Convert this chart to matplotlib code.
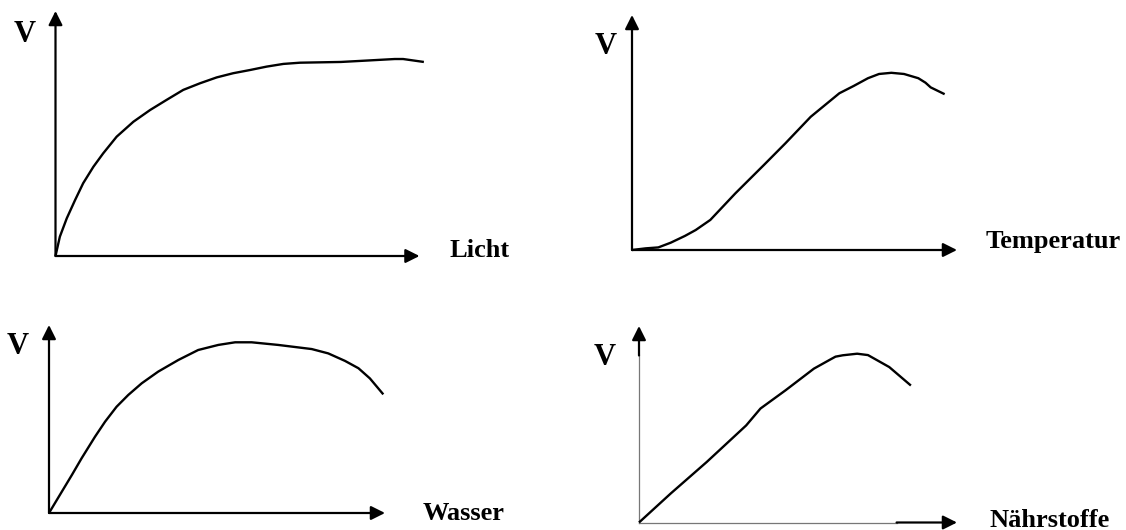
import matplotlib
matplotlib.use("Agg")
import matplotlib.pyplot as plt

W, H = 1126, 530

# ---- data (x: % of x-axis length, y: % of y-axis length) ----
licht_x = [0, 1.2, 3.1, 5.4, 7.6, 10.4, 13.1, 16.8, 21.4, 26.0, 30.5, 35.1, 39.7,
           44.3, 48.8, 53.4, 58.0, 62.6, 67.2, 78.4, 83.4, 93.2, 95.5, 101.2]
licht_y = [0, 7.9, 15.4, 22.9, 29.7, 36.4, 41.9, 48.7, 54.8, 59.6, 63.7, 67.8, 70.5,
           72.9, 74.6, 75.9, 77.3, 78.4, 78.9, 79.2, 79.6, 80.4, 80.4, 79.2]

temp_x = [0, 4.2, 8.1, 11.9, 16.3, 19.6, 24.1, 31.8, 40.6, 47.2, 55.0, 63.8, 68.2,
          72.6, 76.0, 79.8, 83.7, 88.1, 90.3, 91.9, 96.2]
temp_y = [0, 0.7, 1.1, 3.1, 6.0, 8.5, 12.8, 24.1, 36.2, 45.4, 56.7, 66.7, 69.8,
          73.1, 74.9, 75.4, 74.9, 73.1, 71.2, 69.2, 66.3]

wasser_x = [0, 3.8, 6.8, 9.7, 13.7, 16.7, 20.1, 23.6, 27.6, 32.5, 38.5, 44.4, 50.4,
            55.4, 60.3, 68.2, 78.2, 83.1, 88.1, 92.1, 95.5, 99.5]
wasser_y = [0, 11.3, 20.2, 29.1, 40.6, 48.6, 56.5, 62.8, 69.0, 75.2, 81.4, 86.7, 89.4,
            90.8, 90.8, 89.4, 87.2, 84.9, 80.9, 77.0, 71.6, 63.1]

naehr_x = [0, 10.0, 21.3, 33.7, 38.2, 46.1, 55.0, 60.1, 61.8, 64.1, 68.6, 72.0, 75.3,
           78.7, 82.1, 85.5]
naehr_y = [0, 14.8, 30.8, 49.4, 58.0, 67.3, 78.3, 82.9, 84.4, 85.1, 85.9, 85.2, 82.2,
           79.1, 74.4, 69.7]

x_labels = ["Licht", "Temperatur", "Wasser", "Nährstoffe"]
y_label = "V"

# ---- layout (pixels): origin x, origin y, x-axis length, y-axis length ----
panels = [
    dict(ox=55.5, oy=256, lx=364, ly=245, x=licht_x, y=licht_y,
         lab=(450, 257), v=(25, 34)),
    dict(ox=632, oy=250, lx=325, ly=235, x=temp_x, y=temp_y,
         lab=(986, 248), v=(606, 47)),
    dict(ox=49, oy=513, lx=336, ly=188, x=wasser_x, y=wasser_y,
         lab=(423, 520), v=(17.5, 346.5)),
    dict(ox=639, oy=522.5, lx=318, ly=196.5, x=naehr_x, y=naehr_y,
         lab=(990, 527), v=(605, 357.5)),
]

FONT = "Liberation Serif"

fig = plt.figure(figsize=(W / 100, H / 100), dpi=100)
fig.patch.set_facecolor("white")

arrow_style = "-|>,head_length=0.7,head_width=0.35"


def arrow(ax, start, end):
    ax.annotate("", xy=end, xytext=start,
                arrowprops=dict(arrowstyle=arrow_style, mutation_scale=12,
                                lw=1.6, color="black", shrinkA=0, shrinkB=0))


for i, p in enumerate(panels):
    ax = fig.add_axes([p["ox"] / W, (H - p["oy"]) / H, p["lx"] / W, p["ly"] / H])
    ax.set_xlim(0, 100)
    ax.set_ylim(0, 100)
    ax.axis("off")

    if i == 3:
        # thin grey axis parts, black near the arrow heads
        ax.plot([0, 81], [0, 0], color="#777777", lw=0.9, clip_on=False)
        ax.plot([0, 0], [0, 85], color="#777777", lw=0.9, clip_on=False)
        arrow(ax, (81, 0), (100, 0))
        arrow(ax, (0, 85), (0, 100))
    else:
        arrow(ax, (0, 0), (100, 0))
        arrow(ax, (0, 0), (0, 100))

    ax.plot(p["x"], p["y"], color="black", lw=1.7, clip_on=False,
            solid_joinstyle="round", solid_capstyle="butt")

    lx, ly = p["lab"]
    fig.text(lx / W, 1 - ly / H, x_labels[i], family=FONT, weight="bold",
             fontsize=19, ha="left", va="baseline", color="black")
    vx, vy = p["v"]
    fig.text(vx / W, 1 - vy / H, y_label, family=FONT, weight="bold",
             fontsize=22, ha="center", va="center", color="black")

fig.savefig("out.png", dpi=100, facecolor="white")
